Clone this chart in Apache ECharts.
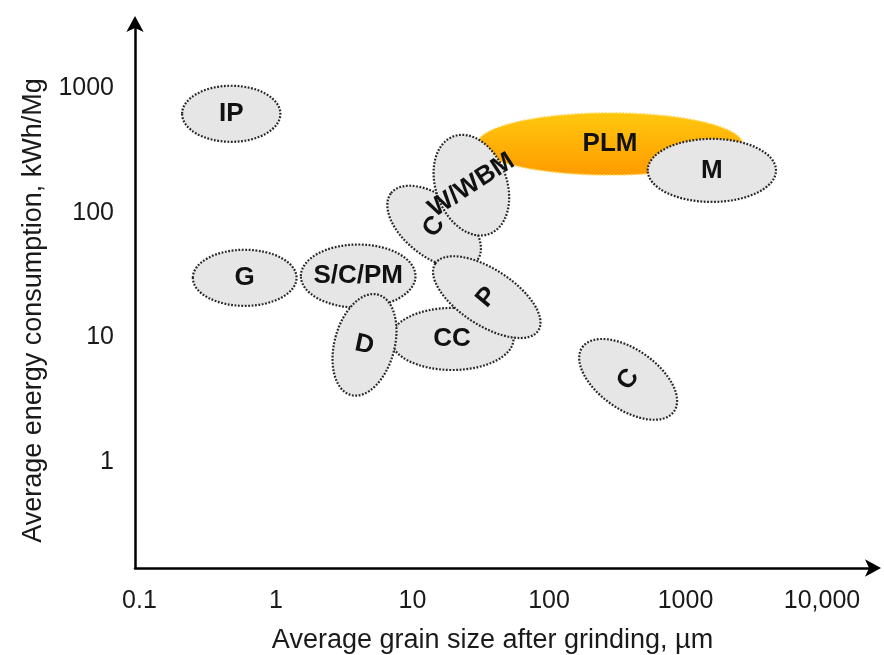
<!DOCTYPE html>
<html>
<head>
<meta charset="utf-8">
<title>Grinding energy vs grain size</title>
<script src="https://cdn.jsdelivr.net/npm/echarts@6/dist/echarts.min.js"></script>
<style>
  html, body { margin: 0; padding: 0; background: #fff; }
  #chart { width: 884px; height: 655px; }
</style>
</head>
<body>
<div id="chart"></div>
<script>
// Grinding technologies: typical product grain size and specific energy use.
// Drawing order matters where the regions overlap.
const regionNames  = ['IP', 'G', 'S/C/PM', 'CC', 'D', 'C', 'P', 'C', 'PLM', 'W/WBM', 'M'];
// centre of each region
const grainSize    = [0.47, 0.59, 4.0, 19.5, 4.45, 14.4, 35, 380, 280, 27, 1560];   // µm
const energyUse    = [620, 30, 31, 9.7, 8.7, 77, 21, 4.6, 355, 166, 218];          // kWh/Mg
// half-extent of each region, in decades (before tilting)
const grainSpread  = [0.36, 0.38, 0.42, 0.45, 0.22, 0.40, 0.45, 0.41, 0.97, 0.26, 0.47];
const energySpread = [0.225, 0.225, 0.253, 0.249, 0.417, 0.24, 0.225, 0.24, 0.249, 0.417, 0.253];
// tilt of each region and of its label, degrees (counter-clockwise)
const regionTilt   = [0, 0, 0, 0, -15, -38, -33, -35, 0, 20, 0];
const labelTilt    = [0, 0, 0, 0, -12, 55, 50, 55, 0, 33, 0];

const xTickLabels = { '-1': '0.1', '0': '1', '1': '10', '2': '100', '3': '1000', '4': '10,000' };
const yTickLabels = { '0': '1', '1': '10', '2': '100', '3': '1000' };

const highlighted = 'PLM';

const chart = echarts.init(document.getElementById('chart'), null, { renderer: 'canvas' });

function decadeLabel(map) {
  return function (value) {
    const e = Math.log10(value);
    const r = Math.round(e);
    if (Math.abs(e - r) > 1e-6) return '';
    const key = String(r);
    return map[key] !== undefined ? map[key] : '';
  };
}

function pixelsPerDecade(api) {
  const a = api.coord([1, 1]);
  const b = api.coord([10, 10]);
  return [b[0] - a[0], a[1] - b[1]];
}

function renderRegion(params, api) {
  const i = params.dataIndex;
  const c = api.coord([api.value(0), api.value(1)]);
  const k = pixelsPerDecade(api);
  const isHot = regionNames[i] === highlighted;
  const fill = isHot
    ? new echarts.graphic.LinearGradient(0, 0, 0, 1, [
        { offset: 0, color: '#FFC80E' },
        { offset: 1, color: '#FF9B00' }
      ])
    : '#E6E6E6';
  return {
    type: 'ellipse',
    x: c[0],
    y: c[1],
    rotation: regionTilt[i] * Math.PI / 180,
    shape: { cx: 0, cy: 0, rx: grainSpread[i] * k[0], ry: energySpread[i] * k[1] },
    style: {
      fill: fill,
      stroke: isHot ? '#FFD75A' : '#262626',
      lineWidth: isHot ? 1.6 : 2.2,
      lineDash: [1.8, 1.6]
    }
  };
}

function renderLabel(params, api) {
  const i = params.dataIndex;
  const c = api.coord([api.value(0), api.value(1)]);
  return {
    type: 'text',
    x: c[0],
    y: c[1],
    rotation: labelTilt[i] * Math.PI / 180,
    style: {
      text: regionNames[i],
      x: 0,
      y: 0,
      align: 'center',
      verticalAlign: 'middle',
      font: 'bold 26px "Liberation Sans", Arial, sans-serif',
      fill: '#111111'
    }
  };
}

const points = grainSize.map((g, i) => [g, energyUse[i]]);

const axisText = { fontFamily: '"Liberation Sans", Arial, sans-serif', color: '#1A1A1A' };

chart.setOption({
  animation: false,
  backgroundColor: '#ffffff',
  grid: { left: 135, right: 10, top: 23, bottom: 87, containLabel: false, outerBoundsMode: 'none' },
  xAxis: {
    type: 'log',
    logBase: 10,
    min: 0.0927,
    max: 24040,
    name: 'Average grain size after grinding, µm',
    nameLocation: 'middle',
    nameGap: 59,
    nameTextStyle: Object.assign({ fontSize: 27, padding: [0, 24, 0, 0] }, axisText),
    axisLine: {
      show: true,
      symbol: ['none', 'arrow'],
      symbolSize: [13, 16],
      symbolOffset: [0, 7],
      lineStyle: { color: '#000', width: 2.5 }
    },
    axisTick: { show: false },
    splitLine: { show: false },
    axisLabel: Object.assign({
      fontSize: 25,
      margin: 21,
      formatter: decadeLabel(xTickLabels)
    }, axisText)
  },
  yAxis: {
    type: 'log',
    logBase: 10,
    min: 0.1413,
    max: 3315,
    name: 'Average energy consumption, kWh/Mg',
    nameLocation: 'middle',
    nameRotate: 90,
    nameGap: 87,
    nameTextStyle: Object.assign({ fontSize: 27, padding: [0, 30, 0, 0] }, axisText),
    axisLine: {
      show: true,
      symbol: ['none', 'arrow'],
      symbolSize: [13, 16],
      symbolOffset: [0, 7],
      lineStyle: { color: '#000', width: 2.5 }
    },
    axisTick: { show: false },
    splitLine: { show: false },
    axisLabel: Object.assign({
      fontSize: 25,
      margin: 21,
      formatter: decadeLabel(yTickLabels)
    }, axisText)
  },
  series: [
    {
      type: 'custom',
      name: 'regions',
      renderItem: renderRegion,
      data: points,
      encode: { x: 0, y: 1 },
      z: 2
    },
    {
      type: 'custom',
      name: 'labels',
      renderItem: renderLabel,
      data: points,
      encode: { x: 0, y: 1 },
      z: 3
    }
  ]
});
</script>
</body>
</html>
